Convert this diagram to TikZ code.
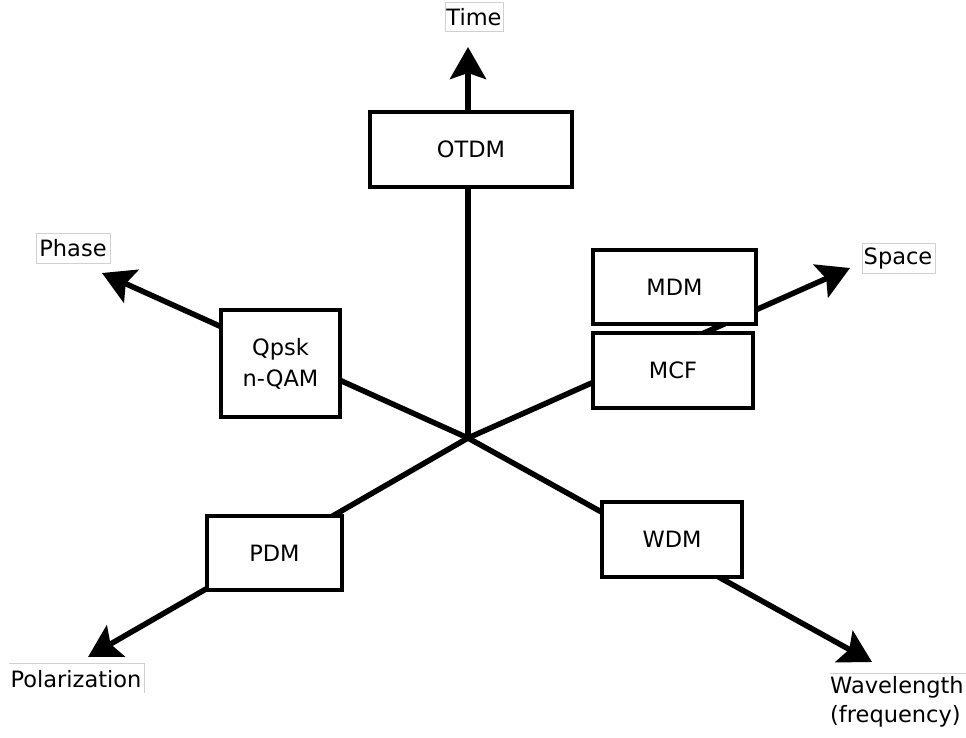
\documentclass[tikz,border=0pt]{standalone}
\usepackage{fontspec}
\setmainfont{DejaVu Sans}
\usetikzlibrary{arrows.meta}
\begin{document}
\begin{tikzpicture}[x=1pt,y=-1pt,
  axis/.style={line width=5.5pt,-{Stealth[length=32pt,width=36pt,inset=6pt]}},
  box/.style={draw,line width=3.5pt,fill=white,minimum width=#1,inner sep=0pt,align=center},
  lbl/.style={inner sep=0pt,align=left},
  txt/.style={font=\fontsize{22.5}{31}\selectfont},
  frame/.style={draw=black!18,line width=0.8pt}]
\useasboundingbox (0,0) rectangle (966,737);
\coordinate (c) at (468,438);
\coordinate (ttime) at (468,47);
\coordinate (tphase) at (102,273);
\coordinate (tspace) at (850,268);
\coordinate (tpol) at (88,657);
\coordinate (twave) at (872,662);
% axes
\draw[axis] (c) -- (ttime);
\draw[axis] (c) -- (tphase);
\draw[axis] (c) -- (tspace);
\draw[axis] (c) -- (tpol);
\draw[axis] (c) -- (twave);
% boxes
\node[box=202pt,minimum height=75pt,txt] (otdm) at (471,149.5) {OTDM};
\node[box=119pt,minimum height=107pt,txt] (qpsk) at (280.5,363.5) {Qpsk\\n-QAM};
\node[box=163pt,minimum height=74pt,txt] (mdm) at (674.5,287) {MDM};
\node[box=160pt,minimum height=75pt,txt] (mcf) at (673,370.5) {MCF};
\node[box=135pt,minimum height=74pt,txt] (pdm) at (274.5,553) {PDM};
\node[box=140pt,minimum height=75pt,txt] (wdm) at (672,539.5) {WDM};
% axis labels
\node[txt,lbl] (time) at (474,17) {Time};
\draw[frame] (445,2) rectangle (503,31);
\node[txt,lbl] (phase) at (73,248) {Phase};
\draw[frame] (36,233) rectangle (110,263);
\node[txt,lbl] (space) at (898,258) {Space};
\draw[frame] (862,243) rectangle (935,273);
\node[txt,lbl] (pol) at (76,679) {Polarization};
\draw[frame] (9,663) -- (144,663) -- (144,693);
\node[txt,lbl,anchor=north west] (wave) at (830,676) {Wavelength\\[-2pt](frequency)};
\draw[frame] (830,673) -- (966,673);
\end{tikzpicture}
\end{document}
